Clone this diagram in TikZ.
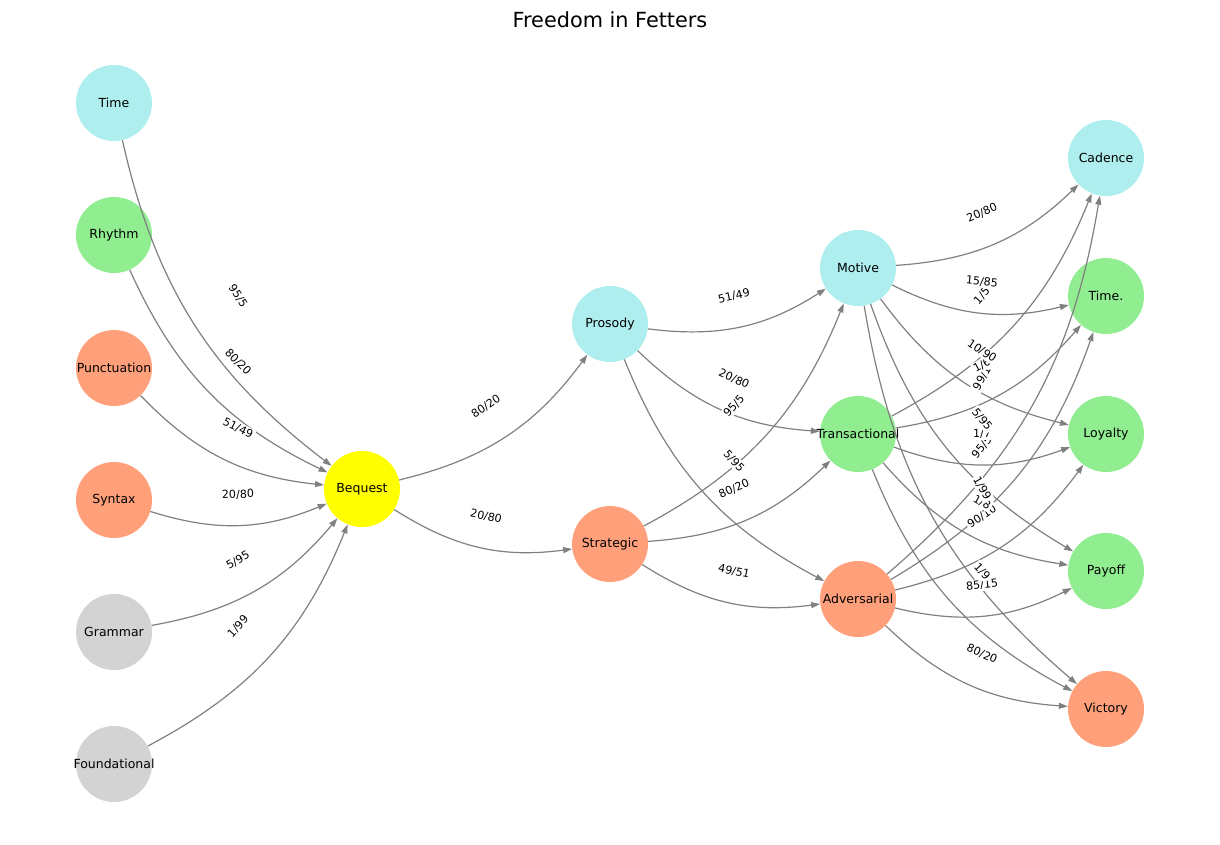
\documentclass[tikz,border=0pt]{standalone}
\usepackage{fontspec}
\setmainfont{DejaVu Sans}
\usetikzlibrary{arrows.meta}
\definecolor{cturq}{HTML}{AFEEEE}
\definecolor{cgreen}{HTML}{90EE90}
\definecolor{csalmon}{HTML}{FFA07A}
\definecolor{cgray}{HTML}{D3D3D3}
\definecolor{cyel}{HTML}{FFFF00}
\definecolor{cedge}{HTML}{808080}
\newcommand\zw[1]{\makebox[0pt]{#1}}
\tikzset{
  nd/.style={circle, minimum size=76pt, inner sep=0pt, font=\fontsize{12.5}{14}\selectfont},
  tq/.style={nd, fill=cturq},
  gr/.style={nd, fill=cgreen},
  sa/.style={nd, fill=csalmon},
  gy/.style={nd, fill=cgray},
  ye/.style={nd, fill=cyel},
  edg/.style={draw=cedge, line width=1.2pt, -{Triangle[length=9pt,width=6pt]}, bend right=20},
  lbl/.style={fill=white, inner sep=1.5pt, sloped, font=\fontsize{11.1}{13}\selectfont},
}
\begin{document}
\begin{tikzpicture}[x=1pt,y=-1pt]
\useasboundingbox (0,0) rectangle (1220,844);
\node[font=\fontsize{20.8}{24}\selectfont] (title) at (610,20) {Freedom in Fetters};
% nodes
\node[tq] (time) at (114,103) {\zw{Time}};
\node[gr] (rhythm) at (114,235) {\zw{Rhythm}};
\node[sa] (punct) at (114,368) {\zw{Punctuation}};
\node[sa] (syntax) at (114,500) {\zw{Syntax}};
\node[gy] (grammar) at (114,632) {\zw{Grammar}};
\node[gy] (found) at (114,764) {\zw{Foundational}};
\node[ye] (beq) at (362,489) {\zw{Bequest}};
\node[tq] (pros) at (610,324) {\zw{Prosody}};
\node[sa] (strat) at (610,544) {\zw{Strategic}};
\node[tq] (motive) at (858,268) {\zw{Motive}};
\node[gr] (trans) at (858,434) {\zw{Transactional}};
\node[sa] (adv) at (858,599) {\zw{Adversarial}};
\node[tq] (cad) at (1106,158) {\zw{Cadence}};
\node[gr] (timed) at (1106,296) {\zw{Time.}};
\node[gr] (loy) at (1106,434) {\zw{Loyalty}};
\node[gr] (pay) at (1106,571) {\zw{Payoff}};
\node[sa] (vic) at (1106,709) {\zw{Victory}};
% edges
\draw[edg] (time) to (beq);
\draw[edg] (rhythm) to (beq);
\draw[edg] (punct) to (beq);
\draw[edg] (syntax) to (beq);
\draw[edg] (grammar) to (beq);
\draw[edg] (found) to (beq);
\draw[edg] (beq) to (pros);
\draw[edg] (beq) to (strat);
\draw[edg] (pros) to (motive);
\draw[edg] (pros) to (trans);
\draw[edg] (pros) to (adv);
\draw[edg] (strat) to (motive);
\draw[edg] (strat) to (trans);
\draw[edg] (strat) to (adv);
\foreach \s in {motive,trans,adv}{
  \foreach \t in {cad,timed,loy,pay,vic}{
    \draw[edg] (\s) to (\t);
  }
}
% labels
\path (time) -- node[lbl]{95/5} (beq);
\path (rhythm) -- node[lbl]{80/20} (beq);
\path (punct) -- node[lbl]{51/49} (beq);
\path (syntax) -- node[lbl]{20/80} (beq);
\path (grammar) -- node[lbl]{5/95} (beq);
\path (found) -- node[lbl]{1/99} (beq);
\path (beq) -- node[lbl]{80/20} (pros);
\path (beq) -- node[lbl]{20/80} (strat);
\path (pros) -- node[lbl]{51/49} (motive);
\path (pros) -- node[lbl]{20/80} (trans);
\path (strat) -- node[lbl]{95/5} (motive);
\path (pros) -- node[lbl]{5/95} (adv);
\path (strat) -- node[lbl]{80/20} (trans);
\path (strat) -- node[lbl]{49/51} (adv);
\path (adv) -- node[lbl]{99/1} (cad);
\path (adv) -- node[lbl]{95/5} (timed);
\path (adv) -- node[lbl]{90/10} (loy);
\path (adv) -- node[lbl]{85/15} (pay);
\path (adv) -- node[lbl]{80/20} (vic);
\path (trans) -- node[lbl]{1/5} (cad);
\path (trans) -- node[lbl]{1/6} (timed);
\path (trans) -- node[lbl]{1/7} (loy);
\path (trans) -- node[lbl]{1/8} (pay);
\path (trans) -- node[lbl]{1/9} (vic);
\path (motive) -- node[lbl]{20/80} (cad);
\path (motive) -- node[lbl]{15/85} (timed);
\path (motive) -- node[lbl]{10/90} (loy);
\path (motive) -- node[lbl]{5/95} (pay);
\path (motive) -- node[lbl]{1/99} (vic);
\end{tikzpicture}
\end{document}
